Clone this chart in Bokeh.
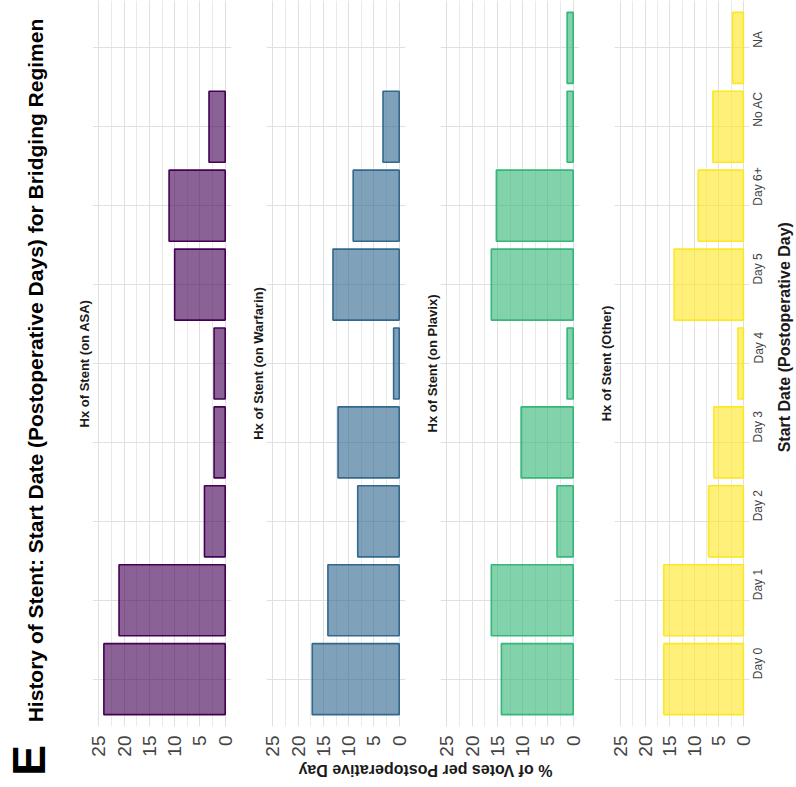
from math import pi
from bokeh.plotting import figure
from bokeh.models import FactorRange, Range1d, SingleIntervalTicker, Title, ColumnDataSource
from bokeh.layouts import row, column
from bokeh.embed import file_html
from bokeh.resources import INLINE
from bokeh.core.properties import value

# ---------------- data ----------------
categories = ["Day 0", "Day 1", "Day 2", "Day 3", "Day 4", "Day 5", "Day 6+", "No AC", "NA"]
panel_titles = ["Hx of Stent (on ASA)", "Hx of Stent (on Warfarin)",
                "Hx of Stent (on Plavix)", "Hx of Stent (Other)"]
asa = [24.0, 21.0, 4.1, 2.2, 2.2, 10.0, 11.1, 3.2, 0.0]
warfarin = [17.2, 14.1, 8.2, 12.1, 1.1, 13.1, 9.1, 3.2, 0.0]
plavix = [14.2, 16.2, 3.2, 10.3, 1.2, 16.2, 15.2, 1.2, 1.2]
other = [16.2, 16.2, 7.1, 6.0, 1.1, 14.1, 9.2, 6.2, 2.2]
series = [asa, warfarin, plavix, other]

main_title = "History of Stent: Start Date (Postoperative Days) for Bridging Regimen"
value_title = "% of Votes per Postoperative Day"
category_title = "Start Date (Postoperative Day)"
panel_letter = "E"

# ---------------- style ----------------
colors = ["#440154", "#31688E", "#35B779", "#FDE725"]
FONT = "Liberation Sans"
GRID = "#e0e0e0"
MINOR_GRID = "#eaeaea"
FRAME_H = 731
BOTTOM = 28
PANEL_H = FRAME_H + BOTTOM
LEFT_B = 26
RIGHT_B = 9
LAST_RIGHT_B = 22
FRAME_W = 139


def make_panel(i, vals, title, last):
    yr = FactorRange(factors=categories, range_padding=0.2 / len(categories))
    rb = LAST_RIGHT_B if last else RIGHT_B
    p = figure(width=LEFT_B + FRAME_W + rb, height=PANEL_H,
               y_range=yr, x_range=Range1d(26.25, -1.25),
               y_axis_location="right" if last else None,
               toolbar_location=None, output_backend="svg",
               min_border_left=LEFT_B, min_border_right=rb,
               min_border_top=0, min_border_bottom=BOTTOM)
    keep = [k for k, v in enumerate(vals) if v > 0]
    src = ColumnDataSource(dict(cat=[categories[k] for k in keep],
                                val=[vals[k] for k in keep]))
    p.hbar(y="cat", left=0, right="val", height=0.9, source=src,
           fill_color=colors[i], fill_alpha=0.62,
           line_color=colors[i], line_width=1.6)
    p.outline_line_color = None
    p.background_fill_color = "white"
    p.border_fill_color = "white"

    ax = p.xaxis[0]
    ax.ticker = SingleIntervalTicker(interval=5, num_minor_ticks=2)
    ax.major_label_orientation = pi / 2
    ax.major_label_text_font = FONT
    ax.major_label_text_font_size = "19px"
    ax.major_label_text_color = "#444444"
    ax.major_tick_line_color = None
    ax.minor_tick_line_color = None
    ax.axis_line_color = None
    ax.major_label_standoff = 3

    p.xgrid.grid_line_color = GRID
    p.xgrid.minor_grid_line_color = MINOR_GRID
    p.ygrid.grid_line_color = GRID

    if last:
        ya = p.yaxis[0]
        ya.major_label_orientation = pi / 2
        ya.major_label_text_font = FONT
        ya.major_label_text_font_size = "12px"
        ya.major_label_text_color = "#444444"
        ya.major_tick_line_color = None
        ya.axis_line_color = None
        ya.major_label_standoff = 3

    p.add_layout(Title(text=title, align="center", text_font=FONT,
                       text_font_style="bold", text_font_size="13px",
                       text_color="#1a1a1a", standoff=2), "left")
    return p


panels = [make_panel(i, series[i], panel_titles[i], i == 3) for i in range(4)]


def blank(w, h):
    f = figure(width=w, height=h, x_range=Range1d(0, w), y_range=Range1d(0, h),
               x_axis_location=None, y_axis_location=None,
               toolbar_location=None, output_backend="svg",
               min_border=0)
    f.grid.visible = False
    f.outline_line_color = None
    return f


RIGHT_W = 21
right_fig = blank(RIGHT_W, PANEL_H)
right_fig.text(x=[9], y=[PANEL_H - 352], text=[category_title], angle=pi / 2,
               text_align="center", text_baseline="middle",
               text_font=value(FONT), text_font_style="bold",
               text_font_size="16px", text_color="#1a1a1a")

row_w = sum(p.width for p in panels) + RIGHT_W
FOOT_H = 28
footer = blank(row_w, FOOT_H)
footer.text(x=[359], y=[17], text=[value_title], angle=pi,
            text_align="center", text_baseline="middle",
            text_font=value(FONT), text_font_style="bold",
            text_font_size="16px", text_color="#1a1a1a")

TITLE_W = 66
total_h = PANEL_H + FOOT_H
title_fig = blank(TITLE_W, total_h)
title_fig.text(x=[35], y=[total_h - 370], text=[main_title], angle=pi / 2,
               text_align="center", text_baseline="middle",
               text_font=value(FONT), text_font_style="bold",
               text_font_size="21px", text_color="#000000")
title_fig.text(x=[28], y=[total_h - 760], text=[panel_letter], angle=pi / 2,
               text_align="center", text_baseline="middle",
               text_font=value(FONT), text_font_style="bold",
               text_font_size="46px", text_color="#000000")

layout = row(title_fig, column(row(*panels, right_fig), footer))

open("out.html", "w").write(file_html(layout, INLINE))
